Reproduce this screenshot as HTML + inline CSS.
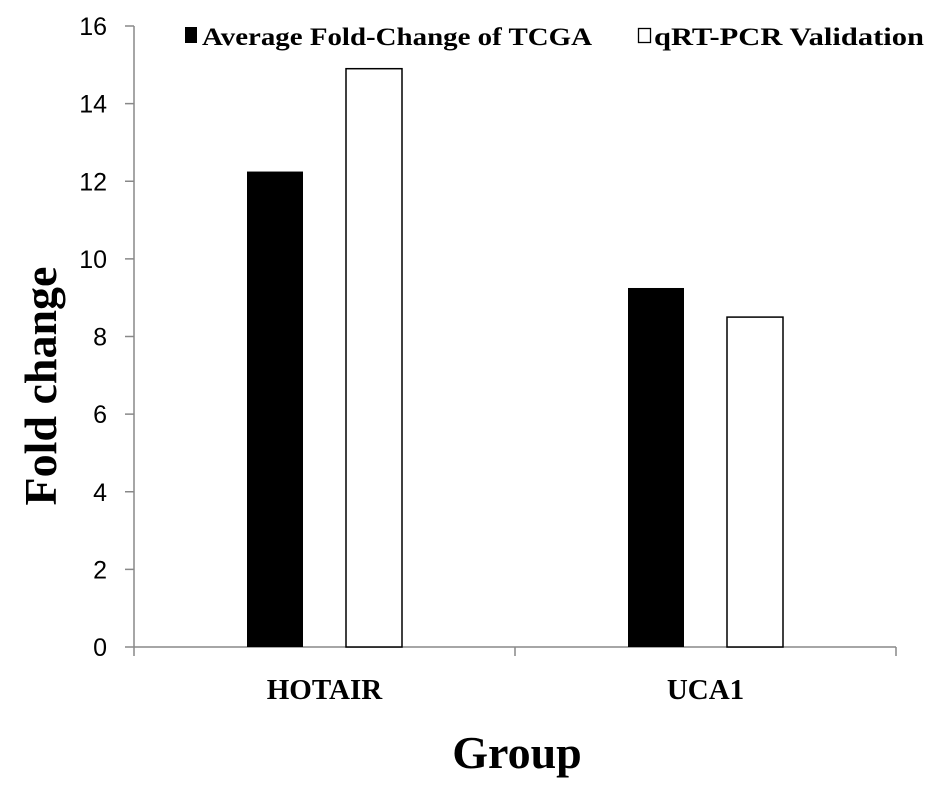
<!DOCTYPE html>
<html><head><meta charset="utf-8"><style>
body{margin:0;background:#fff;}
svg{display:block;}
</style></head><body>
<svg id="chart" width="945" height="797" xmlns="http://www.w3.org/2000/svg">
<g id="axes"></g>
<g id="bars"></g>
<g>
  <rect x="185" y="27" width="12" height="16" fill="#000"/>
  <text x="202" y="45" font-family="Liberation Serif, serif" font-weight="bold" font-size="25" textLength="390" lengthAdjust="spacingAndGlyphs">Average Fold-Change of TCGA</text>
  <rect x="638.5" y="28.5" width="12" height="14" fill="#fff" stroke="#000" stroke-width="1.3"/>
  <text x="654" y="45" font-family="Liberation Serif, serif" font-weight="bold" font-size="25" textLength="270" lengthAdjust="spacingAndGlyphs">qRT-PCR Validation</text>
</g>
<text transform="translate(56,386) rotate(-90)" text-anchor="middle" font-family="Liberation Serif, serif" font-weight="bold" font-size="46">Fold change</text>
<text x="517" y="768" text-anchor="middle" font-family="Liberation Serif, serif" font-weight="bold" font-size="46">Group</text>
</svg>
<script>
const categories = ["HOTAIR", "UCA1"];
const tcgaValues = [12.25, 9.25];
const qpcrValues = [14.9, 8.5];
const yTicks = [0, 2, 4, 6, 8, 10, 12, 14, 16];

const NS = "http://www.w3.org/2000/svg";
const x0 = 134, x1 = 896, yBase = 647, yTop = 26, yMax = 16;
function y(v){ return yBase - v/yMax*(yBase - yTop); }
const band = (x1 - x0)/categories.length;
function catX(i){ return x0 + band*i; }
function mk(tag, attrs, parent){ const e=document.createElementNS(NS,tag); for(const k in attrs) e.setAttribute(k,attrs[k]); parent.appendChild(e); return e; }

const axes = document.getElementById('axes');
const bars = document.getElementById('bars');
let a = mk('line',{x1:x0,y1:yTop,x2:x0,y2:yBase,stroke:'#888','stroke-width':1.5},axes);


a = mk('line',{x1:x0,y1:yBase,x2:x1,y2:yBase,stroke:'#888','stroke-width':1.5},axes);


yTicks.forEach(t=>{
  const l = mk('line',{x1:x0-9,y1:y(t),x2:x0,y2:y(t),stroke:'#888','stroke-width':1.5},axes);
  
  
  const tx = mk('text',{x:x0-27,y:y(t)+9,'text-anchor':'end','font-family':'Liberation Sans, sans-serif','font-size':25},axes);
  tx.textContent = t;
  
  
});
for(let i=0;i<=categories.length;i++){
  const l = mk('line',{x1:catX(i),y1:yBase,x2:catX(i),y2:yBase+9,stroke:'#888','stroke-width':1.5},axes);
  
  
}
const bw = 56, gap = 21.5;
categories.forEach((c,i)=>{
  const cx = catX(i) + band/2;
  const b1 = mk('rect',{x:cx-bw-gap,y:y(tcgaValues[i]),width:bw,height:yBase-y(tcgaValues[i]),fill:'#000'},bars);
  
  
  const b2 = mk('rect',{x:cx+gap,y:y(qpcrValues[i]),width:bw,height:yBase-y(qpcrValues[i]),fill:'#fff',stroke:'#000','stroke-width':1.5},bars);
  
  
  const t = mk('text',{x:cx,y:699,'text-anchor':'middle','font-family':'Liberation Serif, serif','font-weight':'bold','font-size':29},axes);
  t.textContent = c;
  
  
});
</script>
</body></html>
